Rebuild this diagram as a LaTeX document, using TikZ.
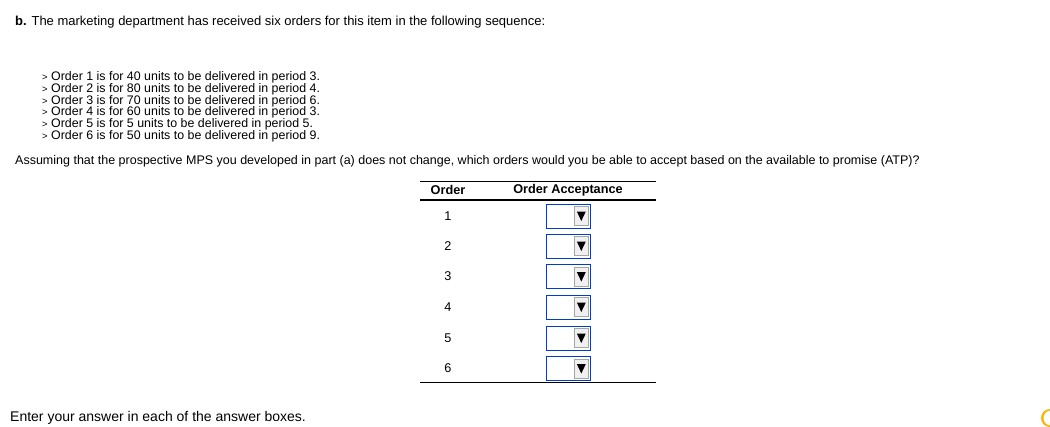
\documentclass[tikz,border=0pt]{standalone}
\usepackage{fontspec}
\setmainfont{Liberation Sans}
\begin{document}
\begin{tikzpicture}[x=1pt,y=-1pt,
  txt/.style={anchor=west,inner sep=0pt,font=\fontsize{12.6}{14}\selectfont},
  cell/.style={inner sep=0pt,font=\fontsize{12.7}{14}\selectfont},
  box/.style={draw=blue!70!cyan!80!black,line width=1pt,minimum width=44pt,minimum height=24pt,inner sep=0pt},
  btn/.style={draw=gray!70,fill=gray!12,minimum width=14pt,minimum height=19pt,inner sep=0pt}]
\useasboundingbox (0,0) rectangle (1050,426);
\node[txt,font=\fontsize{13}{15}\selectfont] (t) at (15,22) {\textbf{b.} The marketing department has received six orders for this item in the following sequence:};
\foreach \i/\u/\p [count=\k] in {1/40/3,2/80/4,3/70/6,4/60/3,5/5/5,6/50/9}
  \node[txt,font=\fontsize{12.4}{14}\selectfont] (l\k) at (42,65.5+11.8*\k) {{\fontsize{9.5}{10}\selectfont>} Order \i\ is for \u\ units to be delivered in period \p.};
\node[txt,font=\fontsize{12.5}{14}\selectfont] (q) at (15,161) {Assuming that the prospective MPS you developed in part (a) does not change, which orders would you be able to accept based on the available to promise (ATP)?};
\draw[line width=0.8pt] (420,181) -- (656,181);
\node[cell] (h1) at (448,190) {\bfseries Order};
\node[cell] (h2) at (568,190) {\bfseries Order Acceptance};
\draw[line width=1.6pt] (420,200) -- (656,200);
\foreach \k/\y in {1/216,2/246,3/276.5,4/307,5/338,6/368.5}{
  \node[cell] (n\k) at (448,\y) {\k};
  \node[box] (b\k) at (568,\y) {};
  \node[btn,anchor=east] (a\k) at ([xshift=-2pt]b\k.east) {};
  \fill ([xshift=-4.5pt,yshift=4.5pt]a\k.center) -- ([xshift=4.5pt,yshift=4.5pt]a\k.center) -- ([yshift=-5pt]a\k.center) -- cycle;
}
\draw[line width=0.8pt] (420,382) -- (656,382);
\node[txt,font=\fontsize{14}{16}\selectfont] (e) at (10,418) {Enter your answer in each of the answer boxes.};
\fill[orange!60!yellow] (1050,418) circle (9pt);
\fill[white] (1051,418) circle (7.5pt);
\end{tikzpicture}
\end{document}
